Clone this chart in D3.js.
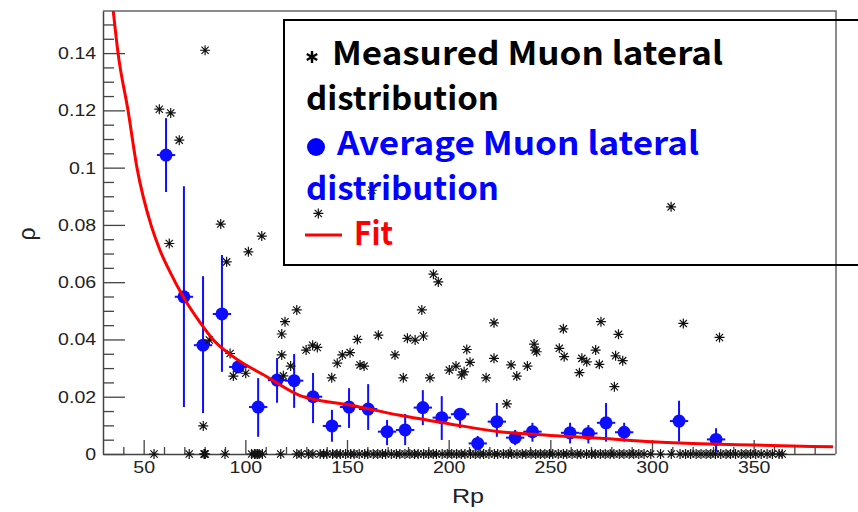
<!DOCTYPE html>
<html>
<head>
<meta charset="utf-8">
<script src="https://cdn.jsdelivr.net/npm/d3@7"></script>
<style>
  body { margin: 0; background: #fff; }
</style>
</head>
<body>
<div id="chart"></div>
<script>
// axis ticks
var xTicks = [50, 100, 150, 200, 250, 300, 350];
var xMinor = [40, 60, 70, 80, 90, 110, 120, 130, 140, 160, 170, 180, 190, 210, 220, 230, 240, 260, 270, 280, 290, 310, 320, 330, 340, 360, 370, 380];
var yTicks = [0, 0.02, 0.04, 0.06, 0.08, 0.1, 0.12, 0.14];
var yTickLabels = ['0', '0.02', '0.04', '0.06', '0.08', '0.1', '0.12', '0.14'];
var yMinor = [0.005, 0.01, 0.015, 0.025, 0.03, 0.035, 0.045, 0.05, 0.055, 0.065, 0.07, 0.075, 0.085, 0.09, 0.095, 0.105, 0.11, 0.115, 0.125, 0.13, 0.135, 0.145, 0.15];

// measured muon lateral distribution (non-zero)
var measRp  = [80.2, 57.7, 63.3, 67.5, 87.9, 108.1, 62.6, 101.5, 90.8, 82.3, 92.5, 94.1, 100.2, 79.3,
  117.9, 119.5, 125.3, 117.9, 118.7, 122.3, 129.9, 133.1, 135.4, 142.5, 145.2, 147.7, 151.5, 155.1,
  156.4, 158.4, 165.4, 173.6, 177.7, 179.7, 183.5, 186.8, 187.6, 190.8, 192.5, 194.9, 200.3, 203.6,
  206.4, 207.6, 208.9, 210.5, 218.4, 222.3, 222.3, 228.6, 230.7, 233.5, 238.7, 242.0, 242.5, 243.3,
  254.4, 256.4, 256.8, 264.3, 265.5, 267.9, 272.3, 274.1, 274.9, 281.5, 282.1, 283.5, 285.6, 315.4,
  333.2, 309.4, 162.2, 135.9];
var measRho = [0.141, 0.1204, 0.1191, 0.1096, 0.0803, 0.0761, 0.0735, 0.0706, 0.0671, 0.0398, 0.0351, 0.0272, 0.0282, 0.0098,
  0.0419, 0.0462, 0.0503, 0.0346, 0.0273, 0.0307, 0.0363, 0.038, 0.0372, 0.0266, 0.0317, 0.0346, 0.0354, 0.040,
  0.0311, 0.0307, 0.0415, 0.0346, 0.0266, 0.0404, 0.0398, 0.0503, 0.0412, 0.0266, 0.0628, 0.0601, 0.0293, 0.0307,
  0.0276, 0.0287, 0.0365, 0.032, 0.0266, 0.0458, 0.0334, 0.0175, 0.0311, 0.0272, 0.0307, 0.0384, 0.0363, 0.0357,
  0.0369, 0.0437, 0.034, 0.0284, 0.0334, 0.0322, 0.0363, 0.0313, 0.0462, 0.0235, 0.0343, 0.0418, 0.0326, 0.0456,
  0.0407, 0.0863, 0.0921, 0.084];

// measured points sitting at rho = 0
var zeroRp = [55.1, 72.4, 79.7, 79.9, 80.3, 90, 103.1, 104.5, 105.2, 106, 106.8, 108.4, 117.4, 125.3,
  127.5, 131, 133.2, 136.8, 138.5, 140.1, 142.9, 145, 146.7, 149.3, 151.8, 153.5, 156, 158.7, 160.2,
  162.9, 165.1, 167.4, 169, 171.8, 174.3, 176, 178.5, 180.9, 183.2, 185, 187.7, 190.1, 192.4, 194,
  196.8, 199.3, 201.5, 203.9, 206.2, 208, 210.7, 213.1, 215.4, 217.2, 219.8, 222.5, 224.1, 226.9,
  229.3, 231, 233.6, 236.2, 238, 240.5, 242.8, 245.1, 247.3, 249.6, 251.2, 253.9, 256.4, 258.1,
  260.7, 263.2, 265, 267.8, 270.3, 272.1, 274.6, 277, 279.4, 281.3, 283.9, 286.2, 288.8, 291, 293.5,
  296.1, 299.4, 304.2, 309.5, 313.8, 316.5, 319, 321.7, 324.1, 326.6, 328.9, 331.2, 333.8, 336.4,
  338.6, 341.1, 343.9, 346.2, 348.5, 351, 353.7, 356.6, 359.2, 362.5, 364];

// average muon lateral distribution
var avgRp  = [61, 69.8, 79.2, 88.5, 96.5, 106.3, 115.6, 124, 133.3, 142.6, 151, 160.4, 169.7, 178.6,
  187.3, 196.6, 205.6, 214.3, 223.7, 232.7, 241.2, 259.7, 268.7, 277.4, 286.3, 313.3, 331.5];
var avgRho = [0.1044, 0.0549, 0.038, 0.0489, 0.0304, 0.0164, 0.0258, 0.0256, 0.020, 0.0098, 0.0164, 0.0157, 0.0078, 0.0084,
  0.0162, 0.0127, 0.0139, 0.0037, 0.0113, 0.0057, 0.0078, 0.0074, 0.0072, 0.0109, 0.0076, 0.0115, 0.0051];
var avgHi  = [0.1173, 0.0935, 0.0621, 0.0695, 0.0318, 0.0265, 0.0335, 0.0349, 0.0283, 0.0154, 0.023, 0.0244, 0.0119, 0.014,
  0.0223, 0.0202, 0.0154, 0.0063, 0.0178, 0.0084, 0.0109, 0.0109, 0.0101, 0.0178, 0.0109, 0.0186, 0.009];
var avgLo  = [0.0915, 0.0164, 0.0143, 0.0287, 0.029, 0.006, 0.0179, 0.0161, 0.0108, 0.0043, 0.0091, 0.0084, 0.0031, 0.0031,
  0.0101, 0.0049, 0.0091, 0.0014, 0.006, 0.0031, 0.0043, 0.0037, 0.0037, 0.0043, 0.0043, 0.0043, 0.0008];
var avgXErr = 4.5;

// fit curve
var fitRp  = [35, 37.4, 42.3, 46.7, 53.6, 58, 63, 69.8, 77.7, 84.1, 94, 110.6, 126.9, 151.5, 176, 200.7, 225, 250, 274.5, 300, 324, 350, 389];
var fitRho = [0.155, 0.14, 0.12, 0.10, 0.08, 0.0712, 0.0635, 0.0545, 0.046, 0.040, 0.034, 0.027, 0.0204, 0.0171, 0.0135, 0.0105, 0.0078, 0.0065, 0.0055, 0.0043, 0.0036, 0.0031, 0.0025];

(function() {

  init();

  function init() {
    var width = 858;
    var height = 512;
    var left = 103, right = 836, top = 11, bottom = 454;

    var svg = d3.select('#chart')
      .append('svg')
      .attr('width', width)
      .attr('height', height);

    var x = d3.scaleLinear().domain([30, 390]).range([left, 835]);
    var y = d3.scaleLinear().domain([0, 0.1547]).range([bottom, top]);

    var defs = svg.append('defs');
    defs.append('clipPath').attr('id', 'plot')
      .append('rect')
      .attr('x', left).attr('y', top)
      .attr('width', right - left).attr('height', bottom - top);
    defs.append('filter').attr('id', 'soft')
      .append('feGaussianBlur').attr('stdDeviation', 0.7);

    // frame (top + right)
    svg.append('path')
      .attr('d', 'M' + left + ',' + top + 'H' + right + 'V' + bottom)
      .attr('fill', 'none')
      .attr('stroke', '#666')
      .attr('stroke-width', 1.5);

    // axes, ticks pointing inward like ROOT
    svg.append('g')
      .attr('transform', 'translate(0,' + bottom + ')')
      .call(d3.axisBottom(x).tickValues(xTicks).tickSizeInner(-14).tickSizeOuter(0).tickPadding(7).tickFormat(d3.format('d')));
    svg.append('g')
      .attr('transform', 'translate(0,' + bottom + ')')
      .call(d3.axisBottom(x).tickValues(xMinor).tickSize(-7).tickFormat(''))
      .select('.domain').remove();

    svg.append('g')
      .attr('transform', 'translate(' + left + ',0)')
      .call(d3.axisLeft(y).tickValues(yTicks).tickSizeInner(-22).tickSizeOuter(0).tickPadding(6)
        .tickFormat(function(d, i) { return yTickLabels[i]; }));
    svg.append('g')
      .attr('transform', 'translate(' + left + ',0)')
      .call(d3.axisLeft(y).tickValues(yMinor).tickSize(-11).tickFormat(''))
      .select('.domain').remove();

    svg.selectAll('.domain').attr('stroke', '#444').attr('stroke-width', 1.5);
    svg.selectAll('.tick line').attr('stroke', '#444').attr('stroke-width', 1.3);
    svg.selectAll('.tick text')
      .attr('font-family', 'Liberation Sans, Arial, sans-serif')
      .attr('font-size', 17)
      .attr('fill', '#222')
      .attr('transform', 'scale(1.15,1)');

    // axis titles
    svg.append('text')
      .attr('transform', 'translate(468,503) scale(1.2,1)')
      .attr('text-anchor', 'middle')
      .attr('font-family', 'Liberation Sans, Arial, sans-serif')
      .attr('font-size', 21)
      .attr('fill', '#222')
      .text('Rp');
    svg.append('text')
      .attr('transform', 'translate(35,234) rotate(-90)')
      .attr('text-anchor', 'middle')
      .attr('font-family', 'Liberation Sans, Arial, sans-serif')
      .attr('font-size', 23)
      .attr('fill', '#222')
      .text('ρ');

    // average points with error bars
    var avg = avgRp.map(function(d, i) {
      return {rp: d, rho: avgRho[i], hi: avgHi[i], lo: avgLo[i]};
    });
    var avgG = svg.append('g').attr('filter', 'url(#soft)');
    avgG.selectAll('line.ey')
      .data(avg).enter().append('line')
      .attr('x1', function(d) { return x(d.rp); })
      .attr('x2', function(d) { return x(d.rp); })
      .attr('y1', function(d) { return y(d.hi); })
      .attr('y2', function(d) { return y(d.lo); })
      .attr('stroke', '#1010ff').attr('stroke-width', 2);
    avgG.selectAll('line.ex')
      .data(avg).enter().append('line')
      .attr('x1', function(d) { return x(d.rp - avgXErr); })
      .attr('x2', function(d) { return x(d.rp + avgXErr); })
      .attr('y1', function(d) { return y(d.rho); })
      .attr('y2', function(d) { return y(d.rho); })
      .attr('stroke', '#1010ff').attr('stroke-width', 2);
    avgG.selectAll('circle')
      .data(avg).enter().append('circle')
      .attr('cx', function(d) { return x(d.rp); })
      .attr('cy', function(d) { return y(d.rho); })
      .attr('r', 6.5)
      .attr('fill', '#1010ff');

    // measured points drawn as asterisks
    var star = 'M-5,0H5M0,-5V5M-3.6,-3.6L3.6,3.6M-3.6,3.6L3.6,-3.6';
    var meas = measRp.map(function(d, i) { return {rp: d, rho: measRho[i]}; })
      .concat(zeroRp.map(function(d) { return {rp: d, rho: 0}; }));
    svg.append('g').selectAll('path')
      .data(meas).enter().append('path')
      .attr('transform', function(d) { return 'translate(' + x(d.rp) + ',' + y(d.rho) + ')'; })
      .attr('d', star)
      .attr('fill', 'none')
      .attr('stroke', '#111')
      .attr('stroke-width', 1.2);

    // fit
    var fit = fitRp.map(function(d, i) { return [d, fitRho[i]]; });
    svg.append('path')
      .datum(fit)
      .attr('clip-path', 'url(#plot)')
      .attr('d', d3.line().curve(d3.curveMonotoneX)
        .x(function(d) { return x(d[0]); })
        .y(function(d) { return y(d[1]); }))
      .attr('fill', 'none')
      .attr('stroke', '#ff0000')
      .attr('stroke-width', 3);

    // legend (transparent box, runs off the right edge)
    var leg = svg.append('g');
    leg.append('rect')
      .attr('x', 284).attr('y', 20)
      .attr('width', 620).attr('height', 245)
      .attr('fill', 'none')
      .attr('stroke', '#000')
      .attr('stroke-width', 2);

    var legFont = 'Noto Sans CJK SC, Noto Sans, sans-serif';
    var lines = [
      {t: 'Measured Muon lateral', x: 332, y: 65, w: 391, c: '#000'},
      {t: 'distribution', x: 306, y: 110, w: 193, c: '#000'},
      {t: 'Average Muon lateral', x: 337, y: 155, w: 362, c: '#0000ff'},
      {t: 'distribution', x: 306, y: 200, w: 193, c: '#0000ff'},
      {t: 'Fit', x: 354, y: 245, w: 39, c: '#ff0000'}
    ];
    leg.selectAll('text')
      .data(lines).enter().append('text')
      .attr('x', function(d) { return d.x; })
      .attr('y', function(d) { return d.y; })
      .attr('textLength', function(d) { return d.w; })
      .attr('lengthAdjust', 'spacingAndGlyphs')
      .attr('font-family', legFont)
      .attr('font-weight', 'bold')
      .attr('font-size', 32)
      .attr('fill', function(d) { return d.c; })
      .text(function(d) { return d.t; });

    leg.append('path')
      .attr('transform', 'translate(312,57)')
      .attr('d', 'M0,-6V6M-5.2,-3L5.2,3M-5.2,3L5.2,-3')
      .attr('stroke', '#000')
      .attr('stroke-width', 2.4);
    leg.append('circle')
      .attr('cx', 316).attr('cy', 147).attr('r', 9)
      .attr('fill', '#0000ff');
    leg.append('line')
      .attr('x1', 305).attr('x2', 342)
      .attr('y1', 235).attr('y2', 235)
      .attr('stroke', '#ff0000')
      .attr('stroke-width', 3);
  }

})();
</script>
</body>
</html>
